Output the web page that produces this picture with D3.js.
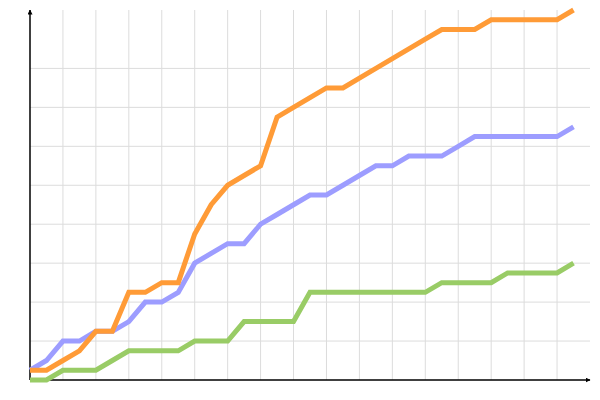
<!DOCTYPE html>
<html>
<head>
<meta charset="utf-8">
<script src="https://cdn.jsdelivr.net/npm/d3@7"></script>
<style>
  html, body { margin: 0; padding: 0; background: #fff; }
  svg { display: block; }
</style>
</head>
<body>
<svg id="chart" width="600" height="400"></svg>
<script>
// ---- data (cumulative counts per step) ----
const steps = d3.range(34);
const orangeValues = [1,1,2,3,5,5,9,9,10,10,15,18,20,21,22,27,28,29,30,30,31,32,33,34,35,36,36,36,37,37,37,37,37,38];
const purpleValues = [1,2,4,4,5,5,6,8,8,9,12,13,14,14,16,17,18,19,19,20,21,22,22,23,23,23,24,25,25,25,25,25,25,26];
const greenValues  = [0,0,1,1,1,2,3,3,3,3,4,4,4,6,6,6,6,9,9,9,9,9,9,9,9,10,10,10,10,11,11,11,11,12];
const xGridTicks = [2,4,6,8,10,12,14,16,18,20,22,24,26,28,30,32];
const yGridTicks = [4,8,12,16,20,24,28,32];

const series = [
  { name: "green",  values: greenValues,  color: "#99cc66" },
  { name: "purple", values: purpleValues, color: "#9d9dff" },
  { name: "orange", values: orangeValues, color: "#ff9b37" }
];

const mLeft = 30, mRight = 590, mTop = 10, mBottom = 380;
const x = d3.scaleLinear().domain([0, 34]).range([mLeft, mRight]);
const y = d3.scaleLinear().domain([0, 38]).range([mBottom, mTop]);

const svg = d3.select("#chart");

// grid
const grid = svg.append("g").attr("stroke", "#dcdcdc").attr("stroke-width", 1);
grid.selectAll("line.v").data(xGridTicks).join("line")
  .attr("class", "v")
  .attr("x1", d => x(d)).attr("x2", d => x(d))
  .attr("y1", mTop).attr("y2", mBottom);
grid.selectAll("line.h").data(yGridTicks).join("line")
  .attr("class", "h")
  .attr("x1", mLeft).attr("x2", mRight)
  .attr("y1", d => y(d)).attr("y2", d => y(d));

// arrow marker
const defs = svg.append("defs");
defs.append("marker")
  .attr("id", "arrow")
  .attr("viewBox", "0 0 10 10")
  .attr("refX", 9).attr("refY", 5)
  .attr("markerWidth", 5).attr("markerHeight", 5)
  .attr("markerUnits", "userSpaceOnUse")
  .attr("orient", "auto")
  .append("path")
  .attr("d", "M0,0 L10,5 L0,10 z")
  .attr("fill", "#000");

// axes
svg.append("line")
  .attr("x1", mLeft).attr("y1", mBottom)
  .attr("x2", mLeft).attr("y2", mTop)
  .attr("stroke", "#000").attr("stroke-width", 1.5)
  .attr("marker-end", "url(#arrow)");
svg.append("line")
  .attr("x1", mLeft).attr("y1", mBottom)
  .attr("x2", mRight).attr("y2", mBottom)
  .attr("stroke", "#000").attr("stroke-width", 1.5)
  .attr("marker-end", "url(#arrow)");

// lines
const line = d3.line()
  .x((d, i) => x(steps[i]))
  .y(d => y(d));

svg.append("g").selectAll("path").data(series).join("path")
  .attr("d", d => line(d.values))
  .attr("fill", "none")
  .attr("stroke", d => d.color)
  .attr("stroke-width", 5)
  .attr("stroke-linejoin", "miter")
  .attr("stroke-linecap", "butt");
</script>
</body>
</html>
